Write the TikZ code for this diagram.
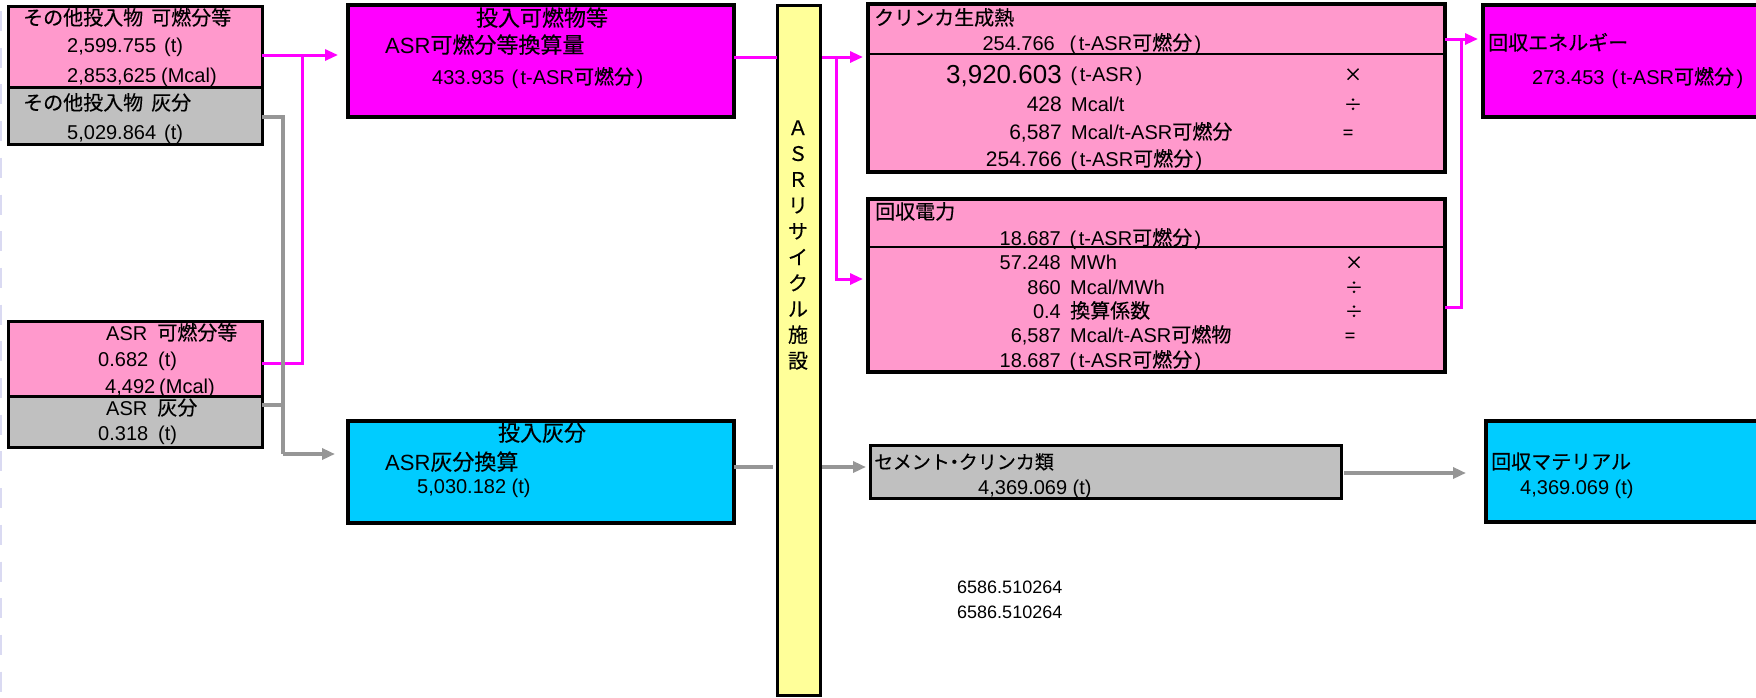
\documentclass[tikz,border=0pt]{standalone}
\usepackage{fontspec}
\setmainfont{Liberation Sans}
\newfontfamily\jpfont[FakeBold=0.3]{Noto Sans CJK JP}
\newcommand\jp[1]{{\jpfont #1}}
\newcommand\pu[1]{\kern1.5pt(\kern2.5pt #1\kern2.5pt)}
\usetikzlibrary{arrows.meta}
\newcommand\myfs[1]{\fontsize{#1}{#1}\selectfont}
\definecolor{pinkc}{HTML}{FF99CC}
\definecolor{grayc}{HTML}{C0C0C0}
\definecolor{magc}{HTML}{FF00FF}
\definecolor{cyanc}{HTML}{00CCFF}
\definecolor{yelc}{HTML}{FFFF99}
\definecolor{linegray}{HTML}{969696}
\definecolor{pagebrk}{HTML}{DADAF2}
\begin{document}
\begin{tikzpicture}[x=1pt,y=-1pt,
  box/.style={draw=black, line width=3pt, outer sep=0pt, inner sep=0pt, anchor=north west},
  tx/.style={inner sep=0pt, anchor=base west, font=\myfs{20}},
  txr/.style={inner sep=0pt, anchor=base east, font=\myfs{20}},
  txc/.style={inner sep=0pt, anchor=base, font=\myfs{20}},
  op/.style={inner sep=0pt, anchor=base, font=\myfs{18}\jpfont},
  magline/.style={draw=magc, line width=3pt},
  grayline/.style={draw=linegray, line width=3.5pt},
  tip/.style={-{Triangle[length=13pt,width=11pt]}},
]
\useasboundingbox (0,0) rectangle (1756,697);
\clip (0,0) rectangle (1756,697);
\fill[white] (0,0) rectangle (1756,697);
% page break marks
\draw[pagebrk, line width=2pt, dash pattern=on 20pt off 16.7pt] (1,11) -- (1,697);

% ---------- boxes ----------
\node[box, fill=pinkc, minimum width=254pt, minimum height=81pt] (oc) at (8,6) {};
\node[box, fill=grayc, minimum width=254pt, minimum height=57pt] (oa) at (8,87) {};
\node[box, fill=pinkc, minimum width=254pt, minimum height=75pt] (ac) at (8,321) {};
\node[box, fill=grayc, minimum width=254pt, minimum height=51pt] (aa) at (8,396) {};
\node[box, line width=4pt, fill=magc, minimum width=386pt, minimum height=112pt] (in1) at (348,5) {};
\node[box, line width=4pt, fill=cyanc, minimum width=386pt, minimum height=102pt] (in2) at (348,421) {};
\node[box, fill=yelc, minimum width=43pt, minimum height=690pt] (bar) at (777,5) {};
\node[box, line width=3.5pt, fill=pinkc, minimum width=577pt, minimum height=168pt] (clk) at (868,4) {};
\node[box, line width=3.5pt, fill=pinkc, minimum width=577pt, minimum height=173pt] (pwr) at (868,199) {};
\node[box, fill=grayc, minimum width=471pt, minimum height=53pt] (cem) at (870,445) {};
\node[box, line width=4pt, fill=magc, minimum width=320pt, minimum height=112pt] (en) at (1483,5) {};
\node[box, line width=4pt, fill=cyanc, minimum width=320pt, minimum height=101pt] (mat) at (1486,421) {};

% dividers
\coordinate (d1) at (0,54);
\coordinate (d2) at (0,247);
\draw[line width=2.5pt] (clk.west |- d1) -- (clk.east |- d1);
\draw[line width=2.5pt] (pwr.west |- d2) -- (pwr.east |- d2);

% ---------- texts ----------
\node[tx] (t1) at (23,25) {\jp{その他投入物\hspace{8pt}可燃分等}};
\node[tx] (t2) at (67,52) {2,599.755\hspace{8pt}(t)};
\node[tx] (t3) at (67,82) {2,853,625\hspace{5pt}(Mcal)};
\node[tx] (t4) at (23,110) {\jp{その他投入物\hspace{8pt}灰分}};
\node[tx] (t5) at (67,139) {5,029.864\hspace{8pt}(t)};

\node[tx] (t6) at (106,340) {ASR\hspace{10pt}\jp{可燃分等}};
\node[tx] (t7) at (98,366) {0.682\hspace{10pt}(t)};
\node[tx] (t8) at (105,393) {4,492\hspace{4pt}(Mcal)};
\node[tx] (t9) at (106,415) {ASR\hspace{10pt}\jp{灰分}};
\node[tx] (t10) at (98,440) {0.318\hspace{10pt}(t)};

\node[txc, font=\myfs{22}] (t11) at (542,26) {\jp{投入可燃物等}};
\node[tx, font=\myfs{22}] (t12) at (385,53) {ASR\jp{可燃分等換算量}};
\node[tx] (t13) at (432,84) {433.935 \pu{t-ASR\jp{可燃分}}};

\node[txc, font=\myfs{22}] (t14) at (542,441) {\jp{投入灰分}};
\node[tx, font=\myfs{22}] (t15) at (385,470) {ASR\jp{灰分換算}};
\node[tx] (t16) at (417,493) {5,030.182 (t)};

\node[font=\fontsize{20}{25.9}\selectfont\jpfont, align=center, inner sep=0pt] (t17) at (798,245)
  {Ａ\\Ｓ\\Ｒ\\リ\\サ\\イ\\ク\\ル\\施\\設};

\node[tx] (c0) at (874,25) {\jp{クリンカ生成熱}};
\node[txr] (c1) at (1055,50) {254.766};
\node[tx] (c2) at (1068,50) {\pu{t-ASR\jp{可燃分}}};
\node[txr, font=\myfs{26}] (c3) at (1062,83) {3,920.603};
\node[tx] (c4) at (1069,81) {\pu{t-ASR}};
\node[op] (c5) at (1353,81) {×};
\node[txr, font=\myfs{21}] (c6) at (1062,111) {428};
\node[tx] (c7) at (1071,111) {Mcal/t};
\node[op] (c8) at (1353,111) {÷};
\node[txr, font=\myfs{21}] (c9) at (1062,139) {6,587};
\node[tx] (c10) at (1071,139) {Mcal/t-ASR\jp{可燃分}};
\node[op] (c11) at (1348,139) {=};
\node[txr, font=\myfs{21}] (c12) at (1062,166) {254.766};
\node[tx] (c13) at (1069,166) {\pu{t-ASR\jp{可燃分}}};

\node[tx] (p0) at (875,219) {\jp{回収電力}};
\node[txr] (p1) at (1061,245) {18.687};
\node[tx] (p2) at (1068,245) {\pu{t-ASR\jp{可燃分}}};
\node[txr] (p3) at (1061,269) {57.248};
\node[tx] (p4) at (1070,269) {MWh};
\node[op] (p5) at (1354,269) {×};
\node[txr] (p6) at (1061,294) {860};
\node[tx] (p7) at (1070,294) {Mcal/MWh};
\node[op] (p8) at (1354,294) {÷};
\node[txr] (p9) at (1061,318) {0.4};
\node[tx] (p10) at (1070,318) {\jp{換算係数}};
\node[op] (p11) at (1354,318) {÷};
\node[txr] (p12) at (1061,342) {6,587};
\node[tx] (p13) at (1070,342) {Mcal/t-ASR\jp{可燃物}};
\node[op] (p14) at (1350,342) {=};
\node[txr] (p15) at (1061,367) {18.687};
\node[tx] (p16) at (1068,367) {\pu{t-ASR\jp{可燃分}}};

\node[tx, font=\myfs{19}] (s1) at (874,469) {\jp{セメント\kern-5pt・\kern-5pt クリンカ類}};
\node[tx] (s2) at (978,494) {4,369.069 (t)};

\node[tx] (e1) at (1488,50) {\jp{回収エネルギー}};
\node[tx] (e2) at (1532,84) {273.453 \pu{t-ASR\jp{可燃分}}};

\node[tx] (r1) at (1491,469) {\jp{回収マテリアル}};
\node[tx] (r2) at (1520,494) {4,369.069 (t)};

\node[tx, font=\myfs{18}] (n1) at (957,593) {6586.510264};
\node[tx, font=\myfs{18}] (n2) at (957,618) {6586.510264};

% ---------- connectors ----------
\coordinate (m1) at (302,55);
\coordinate (m2) at (302,363);
\draw[magline, tip, shorten >=10pt] (oc.east |- m1) -- (in1.west |- m1);
\draw[magline] (ac.east |- m2) -- (m2) -- (m1);

\coordinate (g1) at (283,117);
\coordinate (g2) at (283,405);
\coordinate (g3) at (283,454);
\draw[grayline] (oa.east |- g1) -- (g1) -- (g3);
\draw[grayline] (aa.east |- g2) -- (g2);
\draw[grayline, tip, shorten >=13pt] (g3) -- (in2.west |- g3);

\coordinate (m3) at (0,57);
\draw[magline] (in1.east |- m3) -- (bar.west |- m3);
\coordinate (g4) at (0,467);
\draw[grayline, shorten >=4pt] (in2.east |- g4) -- (bar.west |- g4);

\coordinate (m4) at (836,57);
\coordinate (m5) at (836,279);
\draw[magline, tip, shorten >=5pt, shorten <=2pt] (bar.east |- m4) -- (clk.west |- m4);
\draw[magline, tip, shorten >=5pt] (m4) -- (m5) -- (pwr.west |- m5);
\draw[grayline, tip, shorten >=4pt, shorten <=2pt] (bar.east |- g4) -- (cem.west |- g4);

\coordinate (g5) at (0,473);
\draw[grayline, tip, shorten >=20pt, shorten <=3pt] (cem.east |- g5) -- (mat.west |- g5);

\coordinate (m6) at (1461,39);
\coordinate (m7) at (1461,307);
\draw[magline, tip, shorten >=5pt] (clk.east |- m6) -- (en.west |- m6);
\draw[magline] (pwr.east |- m7) -- (m7) -- (m6);
\end{tikzpicture}
\end{document}
